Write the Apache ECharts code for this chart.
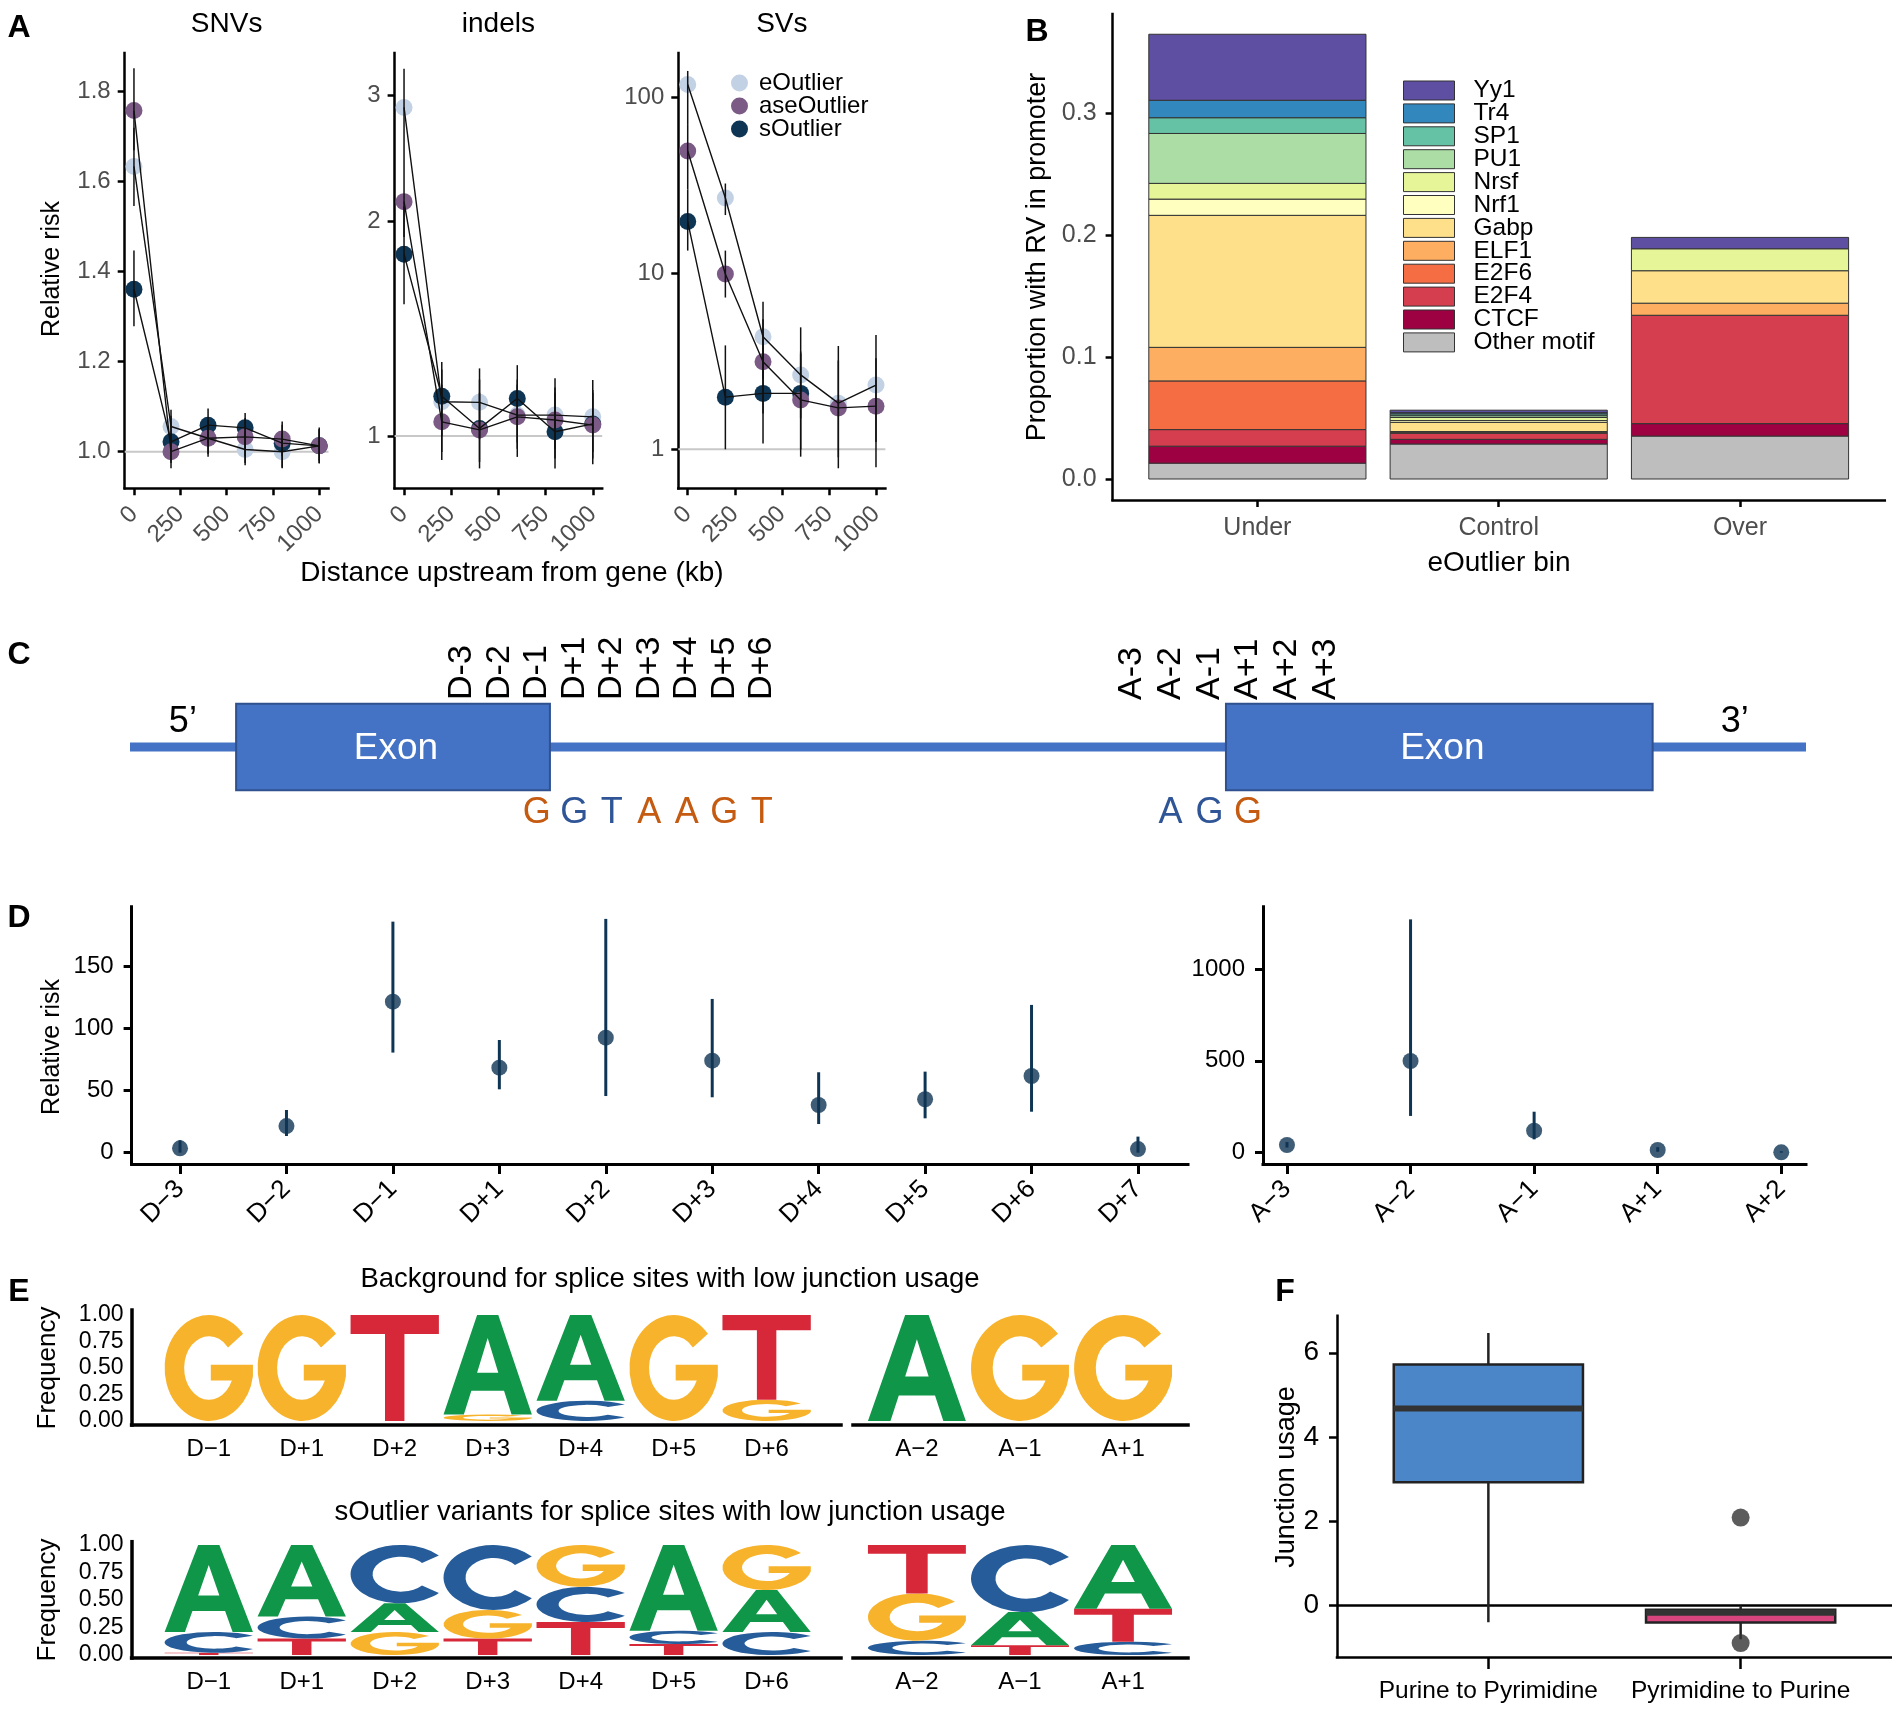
<!DOCTYPE html>
<html>
<head>
<meta charset="utf-8">
<script src="https://cdn.jsdelivr.net/npm/echarts@6.0.0/dist/echarts.min.js"></script>
<style>
html,body{margin:0;padding:0;background:#ffffff;}
#chart{width:1892px;height:1710px;}
</style>
</head>
<body>
<div id="chart"></div>
<script>
const FONT = "'Liberation Sans', Arial, Helvetica, sans-serif";
const BLACK = '#000000';
const GRAY_TXT = '#4d4d4d';

// ===================== Panel A data =====================
const distances = [0, 200, 400, 600, 800, 1000];
const distanceTicks = [0, 250, 500, 750, 1000];
const outlierTypes = ['eOutlier', 'aseOutlier', 'sOutlier'];
const outlierColors = ['#c3d1e5', '#7b5a86', '#0f3554'];

const snvTicks = [1.0, 1.2, 1.4, 1.6, 1.8];
const snvE     = [1.634, 1.056, 1.030, 1.005, 1.000, 1.013];
const snvAse   = [1.758, 1.000, 1.030, 1.033, 1.028, 1.013];
const snvS     = [1.361, 1.022, 1.059, 1.053, 1.019, 1.013];
const snvELo   = [1.546, 1.020, 0.995, 0.975, 0.965, 0.980];
const snvEHi   = [1.720, 1.093, 1.070, 1.045, 1.040, 1.050];
const snvAseLo = [1.670, 0.963, 0.989, 0.990, 0.990, 0.975];
const snvAseHi = [1.852, 1.040, 1.070, 1.075, 1.067, 1.054];
const snvSLo   = [1.279, 0.975, 1.020, 0.970, 0.963, 0.974];
const snvSHi   = [1.447, 1.080, 1.096, 1.086, 1.060, 1.050];

const indelTicks = [1, 2, 3];
const indelE     = [2.886, 1.117, 1.115, 1.070, 1.070, 1.064];
const indelAse   = [2.130, 1.047, 1.020, 1.064, 1.053, 1.036];
const indelS     = [1.798, 1.137, 1.025, 1.129, 1.014, 1.040];
const indelELo   = [2.500, 1.000, 0.990, 0.960, 0.960, 0.950];
const indelEHi   = [3.270, 1.240, 1.244, 1.200, 1.205, 1.198];
const indelAseLo = [1.900, 0.926, 0.901, 0.935, 0.930, 0.913];
const indelAseHi = [2.500, 1.180, 1.150, 1.180, 1.170, 1.150];
const indelSLo   = [1.530, 0.950, 0.920, 0.980, 0.901, 0.930];
const indelSHi   = [2.100, 1.270, 1.200, 1.257, 1.150, 1.160];

const svTicks = [1, 10, 100];
const svE     = [119, 26.9, 4.37, 2.65, 1.83, 2.32];
const svAse   = [49.8, 9.93, 3.15, 1.91, 1.72, 1.76];
const svS     = [19.75, 1.98, 2.08, 2.08, null, null];
const svELo   = [70, 21.5, 2.5, 1.5, 0.9, 1.1];
const svEHi   = [142, 32.5, 6.91, 4.94, 3.87, 4.47];
const svAseLo = [30, 7.3, 1.6, 1.0, 0.78, 0.79];
const svAseHi = [70, 13.5, 5.5, 3.6, 3.2, 3.3];
const svSLo   = [13.5, 1.0, 1.08, 0.908, null, null];
const svSHi   = [30, 3.9, 4.2, 3.5, null, null];

// ===================== Panel B data =====================
const motifs = ['Yy1','Tr4','SP1','PU1','Nrsf','Nrf1','Gabp','ELF1','E2F6','E2F4','CTCF','Other motif'];
const motifColors = ['#5E4FA2','#3288BD','#66C2A5','#ABDDA4','#E6F598','#FFFFBF','#FEE08B','#FDAE61','#F46D43','#D53E4F','#9E0142','#BEBEBE'];
const eoutlierBins = ['Under', 'Control', 'Over'];
const underProp   = [0.0541, 0.0143, 0.0129, 0.0409, 0.0129, 0.0133, 0.1082, 0.0275, 0.0399, 0.0136, 0.0139, 0.0130];
const controlProp = [0.0020, 0.0010, 0.0015, 0.0015, 0.0025, 0.0015, 0.0075, 0.0006, 0.0008, 0.0050, 0.0038, 0.0287];
const overProp    = [0.0093, 0, 0, 0, 0.0180, 0, 0.0266, 0.0099, 0, 0.0888, 0.0102, 0.0352];
const propTicks = [0, 0.1, 0.2, 0.3];

// ===================== Panel C (schematic, in nucleotide units) =====================
const geneSpan = [0, 44.7];
const exonStarts = [2.83, 29.23];
const exonEnds = [11.2, 40.61];
const donorLabels = ['D-3','D-2','D-1','D+1','D+2','D+3','D+4','D+5','D+6'];
const donorPos = [8.85, 9.85, 10.85, 11.85, 12.85, 13.85, 14.85, 15.85, 16.85];
const acceptorLabels = ['A-3','A-2','A-1','A+1','A+2','A+3'];
const acceptorPos = [26.72, 27.75, 28.79, 29.82, 30.86, 31.89];
const donorSeq = ['G','G','T','A','A','G','T'];
const donorSeqColor = ['#c55a11','#2f5597','#2f5597','#c55a11','#c55a11','#c55a11','#c55a11'];
const acceptorSeq = ['A','G','G'];
const acceptorSeqColor = ['#2f5597','#2f5597','#c55a11'];

// ===================== Panel D data =====================
const donorSites = ['D\u22123','D\u22122','D\u22121','D+1','D+2','D+3','D+4','D+5','D+6','D+7'];
const donorRR = [3.5, 21.4, 121.3, 68.3, 92.4, 73.9, 38.3, 42.9, 61.6, 2.9];
const donorLo = [0, 13.4, 80.4, 50.9, 45.5, 44.5, 23.0, 27.6, 32.9, 0];
const donorHi = [10, 34.3, 185.6, 90.5, 187.8, 123.5, 64.6, 65.1, 118.7, 12.9];
const donorTicks = [0, 50, 100, 150];
const acceptorSites = ['A\u22123','A\u22122','A\u22121','A+1','A+2'];
const acceptorRR = [41.7, 499, 120, 14.5, 2];
const acceptorLo = [28, 200, 72.6, 5, 0];
const acceptorHi = [58, 1270, 223, 30, 8];
const acceptorTicks = [0, 500, 1000];

// ===================== Panel E data =====================
const logoDonorSites = ['D\u22121','D+1','D+2','D+3','D+4','D+5','D+6'];
const logoAcceptorSites = ['A\u22122','A\u22121','A+1'];
const freqTicks = [0, 0.25, 0.5, 0.75, 1.0];
// positions: D-1, D+1, D+2, D+3, D+4, D+5, D+6, A-2, A-1, A+1
const bgA = [0, 0, 0, 0.94, 0.81, 0, 0, 1, 0, 0];
const bgC = [0, 0, 0, 0, 0.19, 0, 0, 0, 0, 0];
const bgG = [1, 1, 0, 0.06, 0, 1, 0.20, 0, 1, 1];
const bgT = [0, 0, 1, 0, 0, 0, 0.80, 0, 0, 0];
const soA = [0.79, 0.65, 0.26, 0, 0, 0.78, 0.38, 0, 0.30, 0.58];
const soC = [0.19, 0.20, 0.53, 0.59, 0.32, 0.12, 0.21, 0.13, 0.61, 0.12];
const soG = [0, 0, 0.21, 0.26, 0.38, 0, 0.41, 0.43, 0, 0];
const soT = [0.02, 0.15, 0, 0.15, 0.30, 0.10, 0, 0.44, 0.09, 0.30];
const letterColors = {A:'#109648', C:'#255C99', G:'#F7B32B', T:'#D62839'};

// ===================== Panel F data =====================
const fCategories = ['Purine to Pyrimidine', 'Pyrimidine to Purine'];
const fMin    = [-0.395, -0.80];
const fQ1     = [2.925, -0.40];
const fMedian = [4.68, -0.17];
const fQ3     = [5.72, -0.10];
const fMax    = [6.47, 0.0];
const fBoxColors = ['#4a86c8', '#d8457e'];
const fOutlierCat = [2, 2];
const fOutlierVal = [2.09, -0.89];
const fTicks = [0, 2, 4, 6];

// ===================== helpers =====================
const grids = [], xAxes = [], yAxes = [], series = [], graphics = [];
function addGrid(g) {
  grids.push(Object.assign({outerBoundsMode: 'none', containLabel: false}, g));
  return grids.length - 1;
}
function axLine(w, show) { return {show: show !== false, onZero: false, lineStyle: {color: BLACK, width: w, cap: 'square'}}; }
function axTick(vals, len, w, show) { return {show: show !== false, customValues: vals, length: len, lineStyle: {color: BLACK, width: w}}; }
function axLabel(vals, fmt, size, color, margin, rotate) {
  return {show: true, customValues: vals, formatter: fmt, fontSize: size, fontFamily: FONT, color: color, margin: margin, rotate: rotate || 0};
}
function hiddenAxis(gi, min, max) { return {gridIndex: gi, type: 'value', show: false, min: min, max: max, splitLine: {show: false}}; }
function errorBarRender(color, width) {
  return function (params, api) {
    const x = api.value(0);
    const a = api.coord([x, api.value(1)]);
    const b = api.coord([x, api.value(2)]);
    return {type: 'line', shape: {x1: a[0], y1: a[1], x2: b[0], y2: b[1]}, style: {stroke: color, lineWidth: width}};
  };
}
function txt(text, x, y, size, opts) {
  opts = opts || {};
  const font = (opts.bold ? 'bold ' : '') + size + 'px ' + FONT;
  return {type: 'text', x: x, y: y, rotation: opts.rot || 0, silent: true, z: 100,
    style: {text: text, font: font, fill: opts.color || BLACK,
      align: opts.align || 'center', verticalAlign: 'middle',
      textAlign: opts.align || 'center', textVerticalAlign: 'middle'}};
}

// ===================== Panel A =====================
const panelsA = [
  {title: 'SNVs', log: false, left: 124.7, width: 203.8, ymin: 0.9187, ymax: 1.886, ticks: snvTicks,
   vals: [snvE, snvAse, snvS], lo: [snvELo, snvAseLo, snvSLo], hi: [snvEHi, snvAseHi, snvSHi]},
  {title: 'indels', log: true, left: 394.6, width: 207.6, ymin: 0.845, ymax: 3.44, ticks: indelTicks,
   vals: [indelE, indelAse, indelS], lo: [indelELo, indelAseLo, indelSLo], hi: [indelEHi, indelAseHi, indelSHi]},
  {title: 'SVs', log: true, left: 678.3, width: 207.1, ymin: 0.60, ymax: 179.6, ticks: svTicks,
   vals: [svE, svAse, svS], lo: [svELo, svAseLo, svSLo], hi: [svEHi, svAseHi, svSHi]}
];
panelsA.forEach(function (p) {
  const gi = addGrid({left: p.left, top: 53, width: p.width, height: 435.3});
  const tf = p.log ? function (v) { return Math.log10(v); } : function (v) { return v; };
  const fmt = p.log ? function (v) { return String(Math.round(Math.pow(10, v))); } : function (v) { return v.toFixed(1); };
  xAxes.push({gridIndex: gi, type: 'value', min: -50, max: 1050, axisLine: axLine(2.5),
    axisTick: axTick(distanceTicks, 7, 2.5),
    axisLabel: axLabel(distanceTicks, function (v) { return String(v); }, 24, GRAY_TXT, 22, 45),
    splitLine: {show: false}});
  const tv = p.ticks.map(tf);
  yAxes.push({gridIndex: gi, type: 'value', min: tf(p.ymin), max: tf(p.ymax), axisLine: axLine(2.5),
    axisTick: axTick(tv, 7, 2.5), axisLabel: axLabel(tv, fmt, 24, GRAY_TXT, 14), splitLine: {show: false}});
  series.push({type: 'custom', xAxisIndex: gi, yAxisIndex: gi, z: 1, silent: true,
    data: [[-50, tf(1), 1050]],
    renderItem: function (params, api) {
      const a = api.coord([api.value(0), api.value(1)]);
      const b = api.coord([api.value(2), api.value(1)]);
      return {type: 'line', shape: {x1: a[0], y1: a[1], x2: b[0], y2: b[1]}, style: {stroke: '#c8c8c8', lineWidth: 2}};
    }});
  [0, 2, 1].forEach(function (k) {
    const d = [];
    distances.forEach(function (x, i) { if (p.vals[k][i] != null) d.push([x, tf(p.vals[k][i])]); });
    series.push({type: 'scatter', name: outlierTypes[k], xAxisIndex: gi, yAxisIndex: gi, z: 2,
      symbol: 'circle', symbolSize: 17, itemStyle: {color: outlierColors[k], opacity: 1}, data: d});
  });
  [0, 1, 2].forEach(function (k) {
    const d = [];
    distances.forEach(function (x, i) { if (p.vals[k][i] != null) d.push([x, tf(p.vals[k][i])]); });
    series.push({type: 'line', xAxisIndex: gi, yAxisIndex: gi, z: 3, silent: true, showSymbol: false, symbol: 'none',
      lineStyle: {color: '#111', width: 1.4}, data: d});
    const eb = [];
    distances.forEach(function (x, i) { if (p.lo[k][i] != null) eb.push([x, tf(p.lo[k][i]), tf(p.hi[k][i])]); });
    series.push({type: 'custom', xAxisIndex: gi, yAxisIndex: gi, z: 4, silent: true, data: eb,
      renderItem: errorBarRender('#111', 1.5)});
  });
  graphics.push(txt(p.title, p.left + p.width / 2, 24, 28));
});
graphics.push(txt('A', 19, 28, 32, {bold: true}));
graphics.push(txt('Relative risk', 52, 269, 25, {rot: Math.PI / 2}));
graphics.push(txt('Distance upstream from gene (kb)', 512, 573, 28));

// ===================== Panel B =====================
(function () {
  const gi = addGrid({left: 1112.6, top: 14, width: 772.2, height: 486});
  xAxes.push({gridIndex: gi, type: 'value', min: 0.4, max: 3.6, axisLine: axLine(2.5),
    axisTick: axTick([1, 2, 3], 7, 2.5),
    axisLabel: axLabel([1, 2, 3], function (v) { return eoutlierBins[Math.round(v) - 1]; }, 25, GRAY_TXT, 16),
    splitLine: {show: false}});
  yAxes.push({gridIndex: gi, type: 'value', min: -0.0172, max: 0.3811, axisLine: axLine(2.5),
    axisTick: axTick(propTicks, 7, 2.5),
    axisLabel: axLabel(propTicks, function (v) { return v.toFixed(1); }, 25, GRAY_TXT, 16),
    splitLine: {show: false}});
  const binVals = [underProp, controlProp, overProp];
  const cum = [0, 0, 0];
  for (let m = motifs.length - 1; m >= 0; m--) {
    const d = [];
    for (let b = 0; b < 3; b++) {
      const v = binVals[b][m];
      d.push([b + 1, cum[b], cum[b] + v]);
      cum[b] += v;
    }
    const color = motifColors[m];
    series.push({type: 'custom', name: motifs[m], xAxisIndex: gi, yAxisIndex: gi, z: 2,
      itemStyle: {color: color, borderColor: '#333', borderWidth: 1}, data: d,
      renderItem: function (params, api) {
        const x = api.value(0), y0 = api.value(1), y1 = api.value(2);
        if (!(y1 - y0 > 1e-9)) return null;
        const a = api.coord([x - 0.45, y1]), c = api.coord([x + 0.45, y0]);
        return {type: 'rect', shape: {x: a[0], y: a[1], width: c[0] - a[0], height: c[1] - a[1]},
          style: {fill: color, stroke: '#333', lineWidth: 1}};
      }});
  }
  graphics.push(txt('B', 1037, 32, 32, {bold: true}));
  graphics.push(txt('Proportion with RV in promoter', 1038, 257, 27, {rot: Math.PI / 2}));
  graphics.push(txt('eOutlier bin', 1499, 563, 28));
})();

// ===================== Panel C =====================
(function () {
  const gi = addGrid({left: 130, top: 630, width: 1676, height: 220});
  xAxes.push(hiddenAxis(gi, 0, 44.7));
  yAxes.push(hiddenAxis(gi, -2.452, 2.786));
  const blue = '#4472c4';
  series.push({type: 'custom', xAxisIndex: gi, yAxisIndex: gi, z: 2, silent: true,
    data: [[geneSpan[0], 0, geneSpan[1]]],
    renderItem: function (params, api) {
      const a = api.coord([api.value(0), api.value(1)]), b = api.coord([api.value(2), api.value(1)]);
      return {type: 'line', shape: {x1: a[0], y1: a[1], x2: b[0], y2: b[1]}, style: {stroke: blue, lineWidth: 9}};
    }});
  series.push({type: 'custom', xAxisIndex: gi, yAxisIndex: gi, z: 3, silent: true,
    data: exonStarts.map(function (s, i) { return [s, exonEnds[i]]; }),
    renderItem: function (params, api) {
      const s = api.value(0), e = api.value(1);
      const a = api.coord([s, 1.03]), b = api.coord([e, -1.03]), c = api.coord([(s + e) / 2, 0]);
      return {type: 'group', children: [
        {type: 'rect', shape: {x: a[0], y: a[1], width: b[0] - a[0], height: b[1] - a[1]},
          style: {fill: blue, stroke: '#2f528f', lineWidth: 2}},
        {type: 'text', x: c[0] + 3, y: c[1] + 2, style: {text: 'Exon', font: '37px ' + FONT, fill: '#ffffff',
          align: 'center', verticalAlign: 'middle', textAlign: 'center', textVerticalAlign: 'middle'}}
      ]};
    }});
  const ends = ['5\u2019', '3\u2019'];
  series.push({type: 'custom', xAxisIndex: gi, yAxisIndex: gi, z: 3, silent: true,
    data: [[1.41, 0.59, 0], [42.8, 0.59, 1]],
    renderItem: function (params, api) {
      const p = api.coord([api.value(0), api.value(1)]);
      return {type: 'text', x: p[0], y: p[1], style: {text: ends[api.value(2)], font: '36px ' + FONT, fill: BLACK,
        align: 'center', verticalAlign: 'middle', textAlign: 'center', textVerticalAlign: 'middle'}};
    }});
  const siteLabels = donorLabels.concat(acceptorLabels);
  const sitePos = donorPos.concat(acceptorPos);
  series.push({type: 'custom', xAxisIndex: gi, yAxisIndex: gi, z: 3, silent: true,
    data: sitePos.map(function (x, i) { return [x, 1.12, i]; }),
    renderItem: function (params, api) {
      const p = api.coord([api.value(0), api.value(1)]);
      return {type: 'text', x: p[0], y: p[1], rotation: Math.PI / 2,
        style: {text: siteLabels[api.value(2)], font: '34px ' + FONT, fill: BLACK,
          align: 'left', verticalAlign: 'middle', textAlign: 'left', textVerticalAlign: 'middle'}};
    }});
  const seqLetters = donorSeq.concat(acceptorSeq);
  const seqColors = donorSeqColor.concat(acceptorSeqColor);
  const seqPos = donorPos.slice(2).concat(acceptorPos.slice(1, 4));
  series.push({type: 'custom', xAxisIndex: gi, yAxisIndex: gi, z: 3, silent: true,
    data: seqPos.map(function (x, i) { return [x, -1.58, i]; }),
    renderItem: function (params, api) {
      const p = api.coord([api.value(0), api.value(1)]);
      const i = api.value(2);
      return {type: 'text', x: p[0], y: p[1],
        style: {text: seqLetters[i], font: '36px ' + FONT, fill: seqColors[i],
          align: 'center', verticalAlign: 'middle', textAlign: 'center', textVerticalAlign: 'middle'}};
    }});
  graphics.push(txt('C', 19, 655, 32, {bold: true}));
})();

// ===================== Panel D =====================
function addRiskPanel(left, width, xmin, xmax, ymin, ymax, sites, rr, lo, hi, ticks, yMargin) {
  const gi = addGrid({left: left, top: 906.7, width: width, height: 257.3});
  const idx = sites.map(function (s, i) { return i + 1; });
  xAxes.push({gridIndex: gi, type: 'value', min: xmin, max: xmax, axisLine: axLine(3),
    axisTick: axTick(idx, 10, 3),
    axisLabel: axLabel(idx, function (v) { return sites[Math.round(v) - 1]; }, 26, BLACK, 21, 45),
    splitLine: {show: false}});
  yAxes.push({gridIndex: gi, type: 'value', min: ymin, max: ymax, axisLine: axLine(3),
    axisTick: axTick(ticks, 8, 3),
    axisLabel: axLabel(ticks, function (v) { return String(v); }, 24, BLACK, yMargin),
    splitLine: {show: false}});
  series.push({type: 'custom', xAxisIndex: gi, yAxisIndex: gi, z: 2, silent: true,
    data: idx.map(function (x, i) { return [x, lo[i], hi[i]]; }),
    renderItem: errorBarRender('#0f3554', 3)});
  series.push({type: 'scatter', xAxisIndex: gi, yAxisIndex: gi, z: 3, silent: true, symbolSize: 16,
    itemStyle: {color: '#0f3554'}, data: idx.map(function (x, i) { return [x, rr[i]]; })});
}
addRiskPanel(131.6, 1056.4, 0.545, 10.47, -9.1, 197.6, donorSites, donorRR, donorLo, donorHi, donorTicks, 18);
addRiskPanel(1263, 543, 0.806, 5.2, -61.6, 1339, acceptorSites, acceptorRR, acceptorLo, acceptorHi, acceptorTicks, 18);
graphics.push(txt('D', 19, 918, 32, {bold: true}));
graphics.push(txt('Relative risk', 52, 1047, 25, {rot: Math.PI / 2}));

// ===================== Panel E =====================
const LETTER_PATH = {
  A: 'M0,100 L38,0 L62,0 L100,100 L77,100 L68.5,76 L31.5,76 L23,100 Z M38,58 L62,58 L50,23 Z',
  C: 'M88.3,17.9 A50,50 0 1 0 88.3,82.1 L71.4,69.3 A28,30 0 1 1 71.4,30.7 Z',
  G: 'M88.3,17.9 A50,50 0 1 0 99.4,58 L99.4,47 L52,47 L52,62 L75.7,62 A28,30 0 1 1 71.4,30.7 Z',
  T: 'M0,0 L100,0 L100,18 L61,18 L61,100 L39,100 L39,18 L0,18 Z'
};
const LETTERS = ['A', 'C', 'G', 'T'];
function logoData(fA, fC, fG, fT, from, to) {
  const out = [];
  for (let i = from; i < to; i++) {
    const items = [[0, fA[i]], [1, fC[i]], [2, fG[i]], [3, fT[i]]].filter(function (e) { return e[1] > 0; });
    items.sort(function (a, b) { return a[1] - b[1]; });
    let y = 0;
    items.forEach(function (e) { out.push([i - from + 1, y, y + e[1], e[0]]); y += e[1]; });
  }
  return out;
}
function logoRender(params, api) {
  const x = api.value(0), y0 = api.value(1), y1 = api.value(2), L = LETTERS[api.value(3)];
  const a = api.coord([x - 0.475, y1]), b = api.coord([x + 0.475, y0]);
  return {type: 'path', shape: {pathData: LETTER_PATH[L], x: a[0], y: a[1], width: b[0] - a[0], height: b[1] - a[1], layout: 'cover'},
    style: {fill: letterColors[L], stroke: null}};
}
function addLogoPanel(left, width, top, height, xmin, xmax, ymin, ymax, sites, data, showY) {
  const gi = addGrid({left: left, top: top, width: width, height: height});
  const idx = sites.map(function (s, i) { return i + 1; });
  xAxes.push({gridIndex: gi, type: 'value', min: xmin, max: xmax, axisLine: axLine(3.5),
    axisTick: {show: false},
    axisLabel: axLabel(idx, function (v) { return sites[Math.round(v) - 1]; }, 24, BLACK, 12),
    splitLine: {show: false}});
  if (showY) {
    yAxes.push({gridIndex: gi, type: 'value', min: ymin, max: ymax, axisLine: axLine(3.5),
      axisTick: {show: false},
      axisLabel: axLabel(freqTicks, function (v) { return v.toFixed(2); }, 23, BLACK, 8),
      splitLine: {show: false}});
  } else {
    yAxes.push(hiddenAxis(gi, ymin, ymax));
  }
  series.push({type: 'custom', xAxisIndex: gi, yAxisIndex: gi, z: 2, silent: true, data: data, renderItem: logoRender});
}
addLogoPanel(131.6, 709.4, 1310, 115, 0.17, 7.8, -0.038, 1.047, logoDonorSites, logoData(bgA, bgC, bgG, bgT, 0, 7), true);
addLogoPanel(853, 335, 1310, 115, 0.38, 3.63, -0.038, 1.047, logoAcceptorSites, logoData(bgA, bgC, bgG, bgT, 7, 10), false);
addLogoPanel(131.6, 709.4, 1541.7, 116.3, 0.17, 7.8, -0.027, 1.03, logoDonorSites, logoData(soA, soC, soG, soT, 0, 7), true);
addLogoPanel(853, 335, 1541.7, 116.3, 0.38, 3.63, -0.027, 1.03, logoAcceptorSites, logoData(soA, soC, soG, soT, 7, 10), false);
graphics.push(txt('E', 19, 1292, 32, {bold: true}));
graphics.push(txt('Background for splice sites with low junction usage', 670, 1279, 27.5));
graphics.push(txt('sOutlier variants for splice sites with low junction usage', 670, 1512, 27.5));
graphics.push(txt('Frequency', 48, 1368, 26, {rot: Math.PI / 2}));
graphics.push(txt('Frequency', 48, 1600, 26, {rot: Math.PI / 2}));

// ===================== Panel F =====================
(function () {
  const gi = addGrid({left: 1337, top: 1315.7, width: 555, height: 341.3});
  xAxes.push({gridIndex: gi, type: 'value', min: 0.4, max: 2.6, axisLine: axLine(2.5),
    axisTick: axTick([1, 2], 12, 2.5),
    axisLabel: axLabel([1, 2], function (v) { return fCategories[Math.round(v) - 1]; }, 24.5, BLACK, 22),
    splitLine: {show: false}});
  yAxes.push({gridIndex: gi, type: 'value', min: -1.22, max: 6.88, axisLine: axLine(2.5),
    axisTick: axTick(fTicks, 8, 2.5),
    axisLabel: axLabel(fTicks, function (v) { return String(v); }, 28, BLACK, 18),
    splitLine: {show: false}});
  series.push({type: 'custom', xAxisIndex: gi, yAxisIndex: gi, z: 1, silent: true,
    data: [[0.4, 0, 2.6]],
    renderItem: function (params, api) {
      const a = api.coord([api.value(0), api.value(1)]), b = api.coord([api.value(2), api.value(1)]);
      return {type: 'line', shape: {x1: a[0], y1: a[1], x2: b[0], y2: b[1]}, style: {stroke: BLACK, lineWidth: 2.5}};
    }});
  series.push({type: 'custom', xAxisIndex: gi, yAxisIndex: gi, z: 2, silent: true,
    data: fCategories.map(function (c, i) { return [i + 1, fMin[i], fQ1[i], fMedian[i], fQ3[i], fMax[i]]; }),
    renderItem: function (params, api) {
      const x = api.value(0), mn = api.value(1), q1 = api.value(2), md = api.value(3), q3 = api.value(4), mx = api.value(5);
      const half = 0.375;
      const tl = api.coord([x - half, q3]), br = api.coord([x + half, q1]);
      const pMax = api.coord([x, mx]), pMin = api.coord([x, mn]);
      const mL = api.coord([x - half, md]), mR = api.coord([x + half, md]);
      return {type: 'group', children: [
        {type: 'line', shape: {x1: pMax[0], y1: pMax[1], x2: pMax[0], y2: tl[1]}, style: {stroke: '#222', lineWidth: 2.5}},
        {type: 'line', shape: {x1: pMin[0], y1: br[1], x2: pMin[0], y2: pMin[1]}, style: {stroke: '#222', lineWidth: 2.5}},
        {type: 'rect', shape: {x: tl[0], y: tl[1], width: br[0] - tl[0], height: br[1] - tl[1]},
          style: {fill: fBoxColors[params.dataIndex], stroke: '#222', lineWidth: 2.5}},
        {type: 'line', shape: {x1: mL[0], y1: mL[1], x2: mR[0], y2: mR[1]}, style: {stroke: '#333', lineWidth: 6}}
      ]};
    }});
  series.push({type: 'scatter', xAxisIndex: gi, yAxisIndex: gi, z: 3, silent: true, symbolSize: 18,
    itemStyle: {color: '#333'}, data: fOutlierCat.map(function (c, i) { return [c, fOutlierVal[i]]; })});
  graphics.push(txt('F', 1285, 1292, 32, {bold: true}));
  graphics.push(txt('Junction usage', 1287, 1477, 27, {rot: Math.PI / 2}));
})();

// ===================== assemble =====================
const chart = echarts.init(document.getElementById('chart'), null, {renderer: 'canvas', width: 1892, height: 1710});
chart.setOption({
  backgroundColor: '#ffffff',
  animation: false,
  textStyle: {fontFamily: FONT},
  grid: grids,
  xAxis: xAxes,
  yAxis: yAxes,
  legend: [
    {data: outlierTypes, orient: 'vertical', left: 726, top: 66, itemWidth: 17, itemHeight: 17, itemGap: -1,
     icon: 'circle', selectedMode: false,
     textStyle: {fontSize: 24, fontFamily: FONT, color: BLACK, padding: [0, 0, 0, 6]}},
    {data: motifs, orient: 'vertical', left: 1398, top: 73, itemWidth: 51, itemHeight: 19, itemGap: -2.1,
     icon: 'rect', selectedMode: false, itemStyle: {borderColor: '#333', borderWidth: 1},
     textStyle: {fontSize: 24.5, fontFamily: FONT, color: BLACK, padding: [0, 0, 0, 14]}}
  ],
  graphic: {elements: graphics},
  series: series
});
</script>
</body>
</html>
